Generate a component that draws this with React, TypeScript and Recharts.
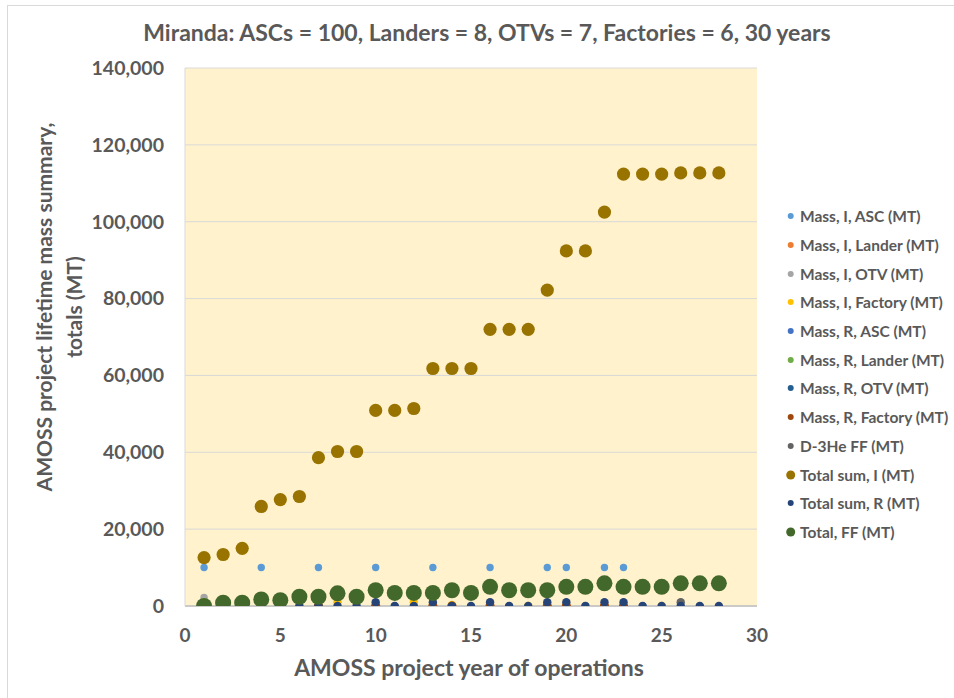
import React from 'react';
import { ScatterChart, Scatter, XAxis, YAxis, CartesianGrid, Legend } from 'recharts';

// ---------- data ----------
const years = [1, 2, 3, 4, 5, 6, 7, 8, 9, 10, 11, 12, 13, 14, 15, 16, 17, 18, 19, 20, 21, 22, 23, 24, 25, 26, 27, 28];

const totalSumI = [12600, 13400, 15000, 25900, 27700, 28500, 38600, 40200, 40200, 50900, 50900, 51400, 61800, 61800, 61800, 72000, 72000, 72000, 82200, 92400, 92400, 102500, 112400, 112400, 112400, 112700, 112700, 112700];
const totalFF = [0, 850, 850, 1700, 1500, 2400, 2400, 3300, 2400, 4100, 3400, 3400, 3400, 4100, 3400, 5000, 4100, 4100, 4100, 5000, 5000, 5900, 5000, 5000, 5000, 5900, 5900, 5900];
const totalSumR = [800, 800, 800, 800, 0, 0, 0, 0, 0, 1000, 0, 0, 1000, 0, 0, 1000, 0, 0, 1000, 1000, 0, 1000, 1000, 0, 0, 0, 0, 0];

const ascYears = [1, 4, 7, 10, 13, 16, 19, 20, 22, 23];
const massIASC = [10000, 10000, 10000, 10000, 10000, 10000, 10000, 10000, 10000, 10000];
const massILander = [300, 300, 300, 300, 300, 300, 300, 300, 300, 300];
const massRASC = [0, 0, 0, 0, 0, 0, 0, 0, 0, 0];
const massRLander = [0, 0, 0, 0, 0, 0, 0, 0, 0, 0];

const otvYears = [1, 6, 11, 17, 21, 24, 27];
const massIOTV = [2200, 0, 0, 0, 0, 0, 0];
const massROTV = [0, 0, 0, 0, 0, 0, 0];

const factoryYears = [1, 8, 12, 14, 18, 25];
const massIFactory = [1000, 1000, 1000, 300, 0, 0];

const rFactoryYears = [4, 5, 7, 10, 13, 14, 16, 19, 20, 22, 23];
const massRFactory = [0, 0, 0, 0, 0, 0, 0, 0, 0, 0, 0];

const ffYears = [1, 26];
const d3HeFF = [500, 1000];

const xTicks = [0, 5, 10, 15, 20, 25, 30];
const yTicks = [0, 20000, 40000, 60000, 80000, 100000, 120000, 140000];

const titleText = 'Miranda: ASCs = 100, Landers = 8, OTVs = 7, Factories = 6, 30 years';
const xTitle = 'AMOSS project year of operations';
const yTitle1 = 'AMOSS project lifetime mass summary,';
const yTitle2 = 'totals (MT)';

const pts = (xs: number[], ys: number[]) => xs.map((x, i) => ({ x, y: ys[i] }));

// ---------- series (drawing order = legend order) ----------
const series = [
  { name: 'Mass, I, ASC (MT)', color: '#5b9bd5', r: 3.7, lr: 3, data: pts(ascYears, massIASC) },
  { name: 'Mass, I, Lander (MT)', color: '#ed7d31', r: 3.7, lr: 3, data: pts(ascYears, massILander) },
  { name: 'Mass, I, OTV (MT)', color: '#a5a5a5', r: 3.7, lr: 3, data: pts(otvYears, massIOTV) },
  { name: 'Mass, I, Factory (MT)', color: '#ffc000', r: 4.2, lr: 3, data: pts(factoryYears, massIFactory) },
  { name: 'Mass, R, ASC (MT)', color: '#4472c4', r: 3.7, lr: 3, data: pts(ascYears, massRASC) },
  { name: 'Mass, R, Lander (MT)', color: '#70ad47', r: 3.7, lr: 3, data: pts(ascYears, massRLander) },
  { name: 'Mass, R, OTV (MT)', color: '#255e91', r: 3.7, lr: 3, data: pts(otvYears, massROTV) },
  { name: 'Mass, R, Factory (MT)', color: '#9e480e', r: 4.6, lr: 3, data: pts(rFactoryYears, massRFactory) },
  { name: 'D-3He FF (MT)', color: '#636363', r: 4.2, lr: 3, data: pts(ffYears, d3HeFF) },
  { name: 'Total sum, I (MT)', color: '#997300', r: 6.6, lr: 4.5, data: pts(years, totalSumI) },
  { name: 'Total sum, R (MT)', color: '#264478', r: 4.2, lr: 3, data: pts(years, totalSumR) },
  { name: 'Total, FF (MT)', color: '#43682b', r: 8, lr: 4.5, data: pts(years, totalFF) },
];

const FONT = 'Lato, "Open Sans", sans-serif';
const TEXT = '#595959';

const renderLegend = () => (
  <div style={{ fontFamily: FONT, fontWeight: 700, fontSize: 15.5, color: TEXT }}>
    {series.map((s) => (
      <div key={s.name} style={{ height: 28.7, display: 'flex', alignItems: 'center', whiteSpace: 'nowrap' }}>
        <svg width={16} height={12} style={{ flex: 'none' }}>
          <circle cx={7.7} cy={6} r={s.lr} fill={s.color} />
        </svg>
        <span style={{ marginLeft: 1 }}>{s.name}</span>
      </div>
    ))}
  </div>
);

export default function App() {
  return (
    <div style={{ position: 'absolute', left: 0, top: 0, width: 954, height: 698, background: '#fff', overflow: 'hidden' }}>
      <div style={{ position: 'absolute', left: 7, top: 5, width: 980, height: 720, border: '1px solid #d9d9d9' }} />
      <div
        style={{
          position: 'absolute', left: 37, top: 16, width: 900, textAlign: 'center',
          fontFamily: FONT, fontWeight: 700, fontSize: 23, color: TEXT, lineHeight: '32px',
        }}
      >
        {titleText}
      </div>
      <ScatterChart width={954} height={698} margin={{ top: 68, right: 197, bottom: 0, left: 0 }} style={{ position: 'absolute', left: 0, top: 0 }}>
        <CartesianGrid vertical={false} stroke="#d9d9d9" fill="#fff2cc" />
        <XAxis
          type="number"
          dataKey="x"
          domain={[0, 30]}
          ticks={xTicks}
          height={92}
          tickLine={false}
          tickSize={0}
          tickMargin={23}
          axisLine={{ stroke: '#bfbfbf', strokeWidth: 1.3 }}
          tick={{ fill: TEXT, fontSize: 19, fontWeight: 700, fontFamily: FONT }}
          allowDataOverflow
        />
        <YAxis
          type="number"
          dataKey="y"
          domain={[0, 140000]}
          ticks={yTicks}
          width={185}
          tickLine={false}
          tickSize={0}
          tickMargin={21}
          axisLine={{ stroke: '#d9d9d9' }}
          tick={{ fill: TEXT, fontSize: 19.5, fontWeight: 700, fontFamily: FONT }}
          tickFormatter={(v: number) => v.toLocaleString('en-US')}
          allowDataOverflow
        />
        <Legend
          layout="vertical"
          align="center"
          verticalAlign="middle"
          content={renderLegend}
          wrapperStyle={{ left: 783, top: 202, width: 175, height: 345 }}
        />
        {series.map((s) => (
          <Scatter
            key={s.name}
            name={s.name}
            data={s.data}
            fill={s.color}
            isAnimationActive={false}
            shape={(p: any) => <circle cx={p.cx} cy={p.cy} r={s.r} fill={s.color} />}
          />
        ))}
      </ScatterChart>
      <div
        style={{
          position: 'absolute', left: 169, top: 652, width: 600, textAlign: 'center',
          fontFamily: FONT, fontWeight: 700, fontSize: 23, color: TEXT, lineHeight: '30px',
        }}
      >
        {xTitle}
      </div>
      <div
        style={{
          position: 'absolute', left: 59 - 220, top: 307 - 30, width: 440, height: 60,
          transform: 'rotate(-90deg)', transformOrigin: '50% 50%', textAlign: 'center',
          fontFamily: FONT, fontWeight: 700, fontSize: 21, color: TEXT, lineHeight: '30px',
        }}
      >
        <div>{yTitle1}</div>
        <div>{yTitle2}</div>
      </div>
    </div>
  );
}
